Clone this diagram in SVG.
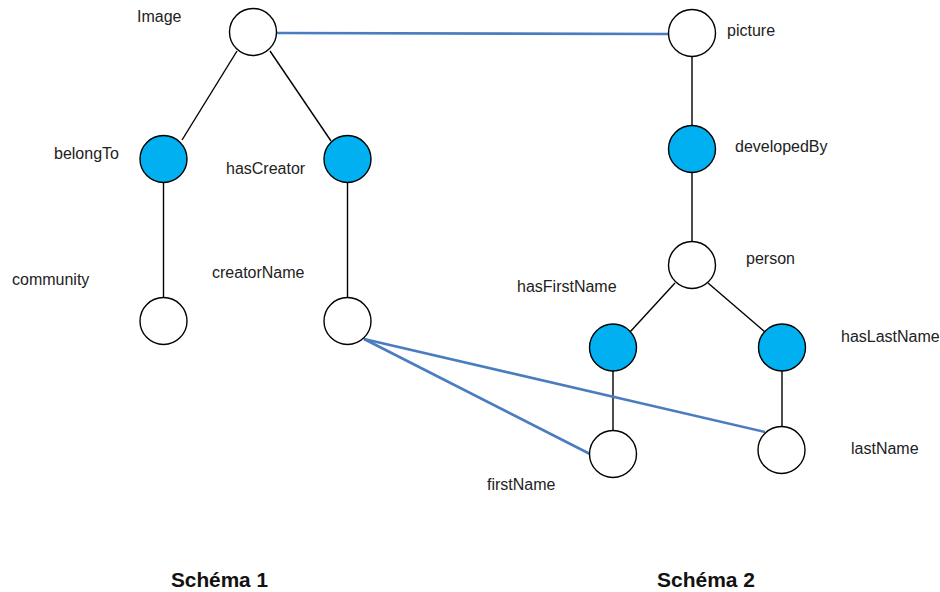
<svg xmlns="http://www.w3.org/2000/svg" width="940" height="592" viewBox="0 0 940 592">
<style>
.n{fill:#fff;stroke:#000;stroke-width:1.4}
.f{fill:#00b0f0;stroke:#000;stroke-width:1.4}
.e{stroke:#000;stroke-width:1.4;fill:none}
.m{stroke:#4a7cc0;stroke-width:2.6;fill:none}
.t{font-family:"Liberation Sans",Arial,sans-serif;font-size:16px;fill:#222}
.h{font-family:"Liberation Sans",Arial,sans-serif;font-size:20px;font-weight:bold;fill:#111}
</style>
<rect width="940" height="592" fill="#fff"/>
<g id="connectors">
<line class="e" x1="237" y1="51" x2="182" y2="140"/>
<line class="e" x1="270" y1="51" x2="331" y2="141"/>
<line class="e" x1="163.5" y1="183" x2="163.5" y2="297"/>
<line class="e" x1="347.5" y1="183" x2="347.5" y2="297"/>
<line class="e" x1="692" y1="57" x2="692" y2="125"/>
<line class="e" x1="692" y1="173" x2="692" y2="241"/>
<line class="e" x1="675" y1="283" x2="630" y2="332"/>
<line class="e" x1="708" y1="283" x2="765" y2="332"/>
<line class="e" x1="613" y1="371" x2="613" y2="430"/>
<line class="e" x1="782" y1="371" x2="782" y2="426"/>
<line class="m" x1="277" y1="33" x2="668" y2="34"/>
<line class="m" x1="364" y1="339" x2="590" y2="454"/>
<line class="m" x1="364" y1="339" x2="765" y2="432"/>
</g>
<g id="Image"><circle class="n" cx="253" cy="32" r="23.5"/><text class="t" x="137" y="22">Image</text></g>
<g id="picture"><circle class="n" cx="692" cy="33" r="23.5"/><text class="t" x="727" y="36">picture</text></g>
<g id="belongTo"><circle class="f" cx="163.5" cy="159" r="23.5"/><text class="t" x="54" y="159">belongTo</text></g>
<g id="hasCreator"><circle class="f" cx="347.5" cy="159" r="23.5"/><text class="t" x="226" y="174">hasCreator</text></g>
<g id="developedBy"><circle class="f" cx="692" cy="149" r="23.5"/><text class="t" x="735" y="152">developedBy</text></g>
<g id="person"><circle class="n" cx="692" cy="265" r="23.5"/><text class="t" x="746" y="264">person</text></g>
<g id="community"><circle class="n" cx="163.5" cy="321" r="23.5"/><text class="t" x="12" y="285">community</text></g>
<g id="creatorName"><circle class="n" cx="347.5" cy="321" r="23.5"/><text class="t" x="212" y="278">creatorName</text></g>
<g id="hasFirstName"><circle class="f" cx="613" cy="347.5" r="23.5"/><text class="t" x="517" y="292">hasFirstName</text></g>
<g id="hasLastName"><circle class="f" cx="782" cy="347.5" r="23.5"/><text class="t" x="841" y="342">hasLastName</text></g>
<g id="firstName"><circle class="n" cx="613" cy="454" r="23.5"/><text class="t" x="487" y="490">firstName</text></g>
<g id="lastName"><circle class="n" cx="781.5" cy="450" r="23.5"/><text class="t" x="851" y="454">lastName</text></g>
<text class="h" x="171" y="587" textLength="97" lengthAdjust="spacingAndGlyphs">Schéma 1</text>
<text class="h" x="657" y="587" textLength="98" lengthAdjust="spacingAndGlyphs">Schéma 2</text>
</svg>
